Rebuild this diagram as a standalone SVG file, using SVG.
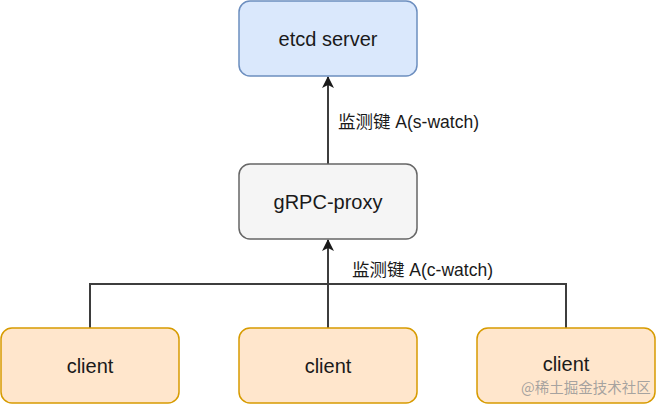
<svg xmlns="http://www.w3.org/2000/svg" width="656" height="404" viewBox="0 0 656 404">
  <defs>
    <style>
      .node-text { font-family: "Liberation Sans", Arial, sans-serif; font-size: 20px; fill: #1a1a1a; text-anchor: middle; dominant-baseline: central; }
      .label { font-family: "Liberation Sans", "Noto Sans CJK SC", sans-serif; font-size: 17.5px; fill: #1a1a1a; dominant-baseline: central; }
      .edge { fill: none; stroke: #3d3d3d; stroke-width: 2; }
      .blue { fill: #dae8fc; stroke: #6c8ebf; stroke-width: 1.5; }
      .grey { fill: #f5f5f5; stroke: #666666; stroke-width: 1.5; }
      .orange { fill: #ffe6cc; stroke: #d79b00; stroke-width: 1.5; }
      .wm { font-family: "Noto Sans CJK SC", "Liberation Sans", sans-serif; font-size: 14.5px; fill: #9a9a9a; fill-opacity: 0.9; }
    </style>
    <marker id="arrow" viewBox="0 0 12 12" refX="11" refY="6" markerWidth="12" markerHeight="12" markerUnits="userSpaceOnUse" orient="auto">
      <path d="M0,0 L12,6 L0,12 L3,6 Z" fill="#1a1a1a" stroke="none"/>
    </marker>
  </defs>
  <rect width="656" height="404" fill="#ffffff"/>

  <g id="connectors">
    <line class="edge" x1="328" y1="164" x2="328" y2="77" marker-end="url(#arrow)"/>
    <text class="label" x="338" y="122">监测键 A(s-watch)</text>
    <polyline class="edge" points="90,328 90,284 566,284 566,328"/>
    <line class="edge" x1="328" y1="328" x2="328" y2="240" marker-end="url(#arrow)"/>
    <text class="label" x="352" y="270">监测键 A(c-watch)</text>
  </g>

  <g id="etcd-server">
    <rect class="blue" x="239" y="1" width="178" height="75" rx="11"/>
    <text class="node-text" x="328" y="38.5">etcd server</text>
  </g>

  <g id="grpc-proxy">
    <rect class="grey" x="239" y="164" width="178" height="75" rx="11"/>
    <text class="node-text" x="328" y="202">gRPC-proxy</text>
  </g>

  <g id="client-1">
    <rect class="orange" x="1" y="328" width="178" height="75" rx="11"/>
    <text class="node-text" x="90" y="366">client</text>
  </g>

  <g id="client-2">
    <rect class="orange" x="239" y="328" width="178" height="75" rx="11"/>
    <text class="node-text" x="328" y="366">client</text>
  </g>

  <g id="client-3">
    <rect class="orange" x="477" y="328" width="178" height="75" rx="11"/>
    <text class="node-text" x="566" y="364">client</text>
  </g>

  <text class="wm" x="521" y="393">@稀土掘金技术社区</text>
</svg>
